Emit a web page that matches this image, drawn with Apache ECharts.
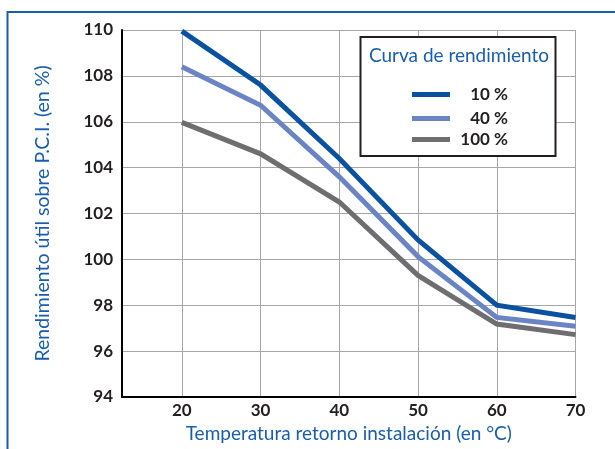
<!DOCTYPE html>
<html>
<head>
<meta charset="utf-8">
<script src="https://cdn.jsdelivr.net/npm/echarts@6/dist/echarts.min.js"></script>
<style>
html,body{margin:0;padding:0;background:#fff;}
#c{width:615px;height:449px;}
</style>
</head>
<body>
<div id="c"></div>
<script>
// Data
const temps = [20, 30, 40, 50, 60, 70];
const xTicks = [20, 30, 40, 50, 60, 70];
const yTicks = [94, 96, 98, 100, 102, 104, 106, 108, 110];
const seriesNames = ['10 %', '40 %', '100 %'];
const load10 = [109.95, 107.6, 104.4, 100.85, 98.0, 97.47];
const load40 = [108.4, 106.72, 103.6, 100.12, 97.47, 97.08];
const load100 = [105.97, 104.6, 102.5, 99.3, 97.18, 96.72];
const legendTitle = 'Curva de rendimiento';
const xName = 'Temperatura retorno instalación (en °C)';
const yName = 'Rendimiento útil sobre P.C.I. (en %)';

const colors = ['#0a52a0', '#6b84c4', '#6e6e70'];
const blueText = '#1a5dab';
const dark = '#231f20';
const FONT = 'Lato';

const chart = echarts.init(document.getElementById('c'));

const seriesData = [load10, load40, load100];
const series = seriesNames.map((n, i) => ({
  name: n,
  type: 'line',
  data: temps.map((t, j) => [t, seriesData[i][j]]),
  symbol: 'none',
  lineStyle: { width: 5, color: colors[i], cap: 'butt', join: 'miter' },
  itemStyle: { color: colors[i] },
  z: 5 - i,
  silent: true,
  animation: false
}));

const legendTops = [81, 105, 126];
const legends = seriesNames.map((n, i) => ({
  data: [n],
  left: 407,
  top: legendTops[i],
  orient: 'vertical',
  icon: 'rect',
  itemWidth: 38,
  itemHeight: 5,
  z: 30,
  selectedMode: false,
  formatter: '{a|{name}}',
  textStyle: {
    rich: {
      a: { width: 53, align: 'right', fontFamily: FONT, fontWeight: 'bold', fontSize: 17, color: dark }
    }
  }
}));

chart.setOption({
  animation: false,
  textStyle: { fontFamily: FONT },
  grid: { left: 122, right: 39.5, top: 30, bottom: 52, containLabel: false },
  xAxis: {
    type: 'value',
    min: 12.4,
    max: 70,
    name: xName,
    nameLocation: 'middle',
    nameGap: 25,
    nameTextStyle: { color: blueText, fontSize: 19, fontFamily: FONT },
    axisLine: { show: true, onZero: false, lineStyle: { color: '#000', width: 2 } },
    axisTick: { show: false, customValues: xTicks },
    axisLabel: { customValues: xTicks, margin: 5, color: dark, fontWeight: 'bold', fontSize: 17, fontFamily: FONT },
    splitLine: { show: true, lineStyle: { color: '#a6a6a6', width: 1 } }
  },
  yAxis: {
    type: 'value',
    min: 94,
    max: 110,
    interval: 2,
    name: yName,
    nameLocation: 'middle',
    nameGap: 69,
    nameRotate: 90,
    nameTextStyle: { color: blueText, fontSize: 19.5, fontFamily: FONT },
    axisLine: { show: true, lineStyle: { color: '#000', width: 2 } },
    axisTick: { show: false },
    axisLabel: { margin: 9, color: dark, fontWeight: 'bold', fontSize: 17, fontFamily: FONT },
    splitLine: { show: true, lineStyle: { color: '#a6a6a6', width: 1 } }
  },
  legend: legends,
  graphic: [
    {
      type: 'rect',
      shape: { x: 7.5, y: 12, width: 640, height: 480 },
      style: { fill: 'none', stroke: '#1a5dab', lineWidth: 2 },
      z: 50, silent: true
    },
    {
      type: 'rect',
      shape: { x: 360.5, y: 37, width: 195, height: 119 },
      style: { fill: '#fff', stroke: '#231f20', lineWidth: 2 },
      z: 10, silent: true
    },
    {
      type: 'text',
      x: 459, y: 56,
      style: { text: legendTitle, fill: blueText, font: '19px ' + FONT, textAlign: 'center', textVerticalAlign: 'middle' },
      z: 11, silent: true
    }
  ],
  series: series
});
</script>
</body>
</html>
